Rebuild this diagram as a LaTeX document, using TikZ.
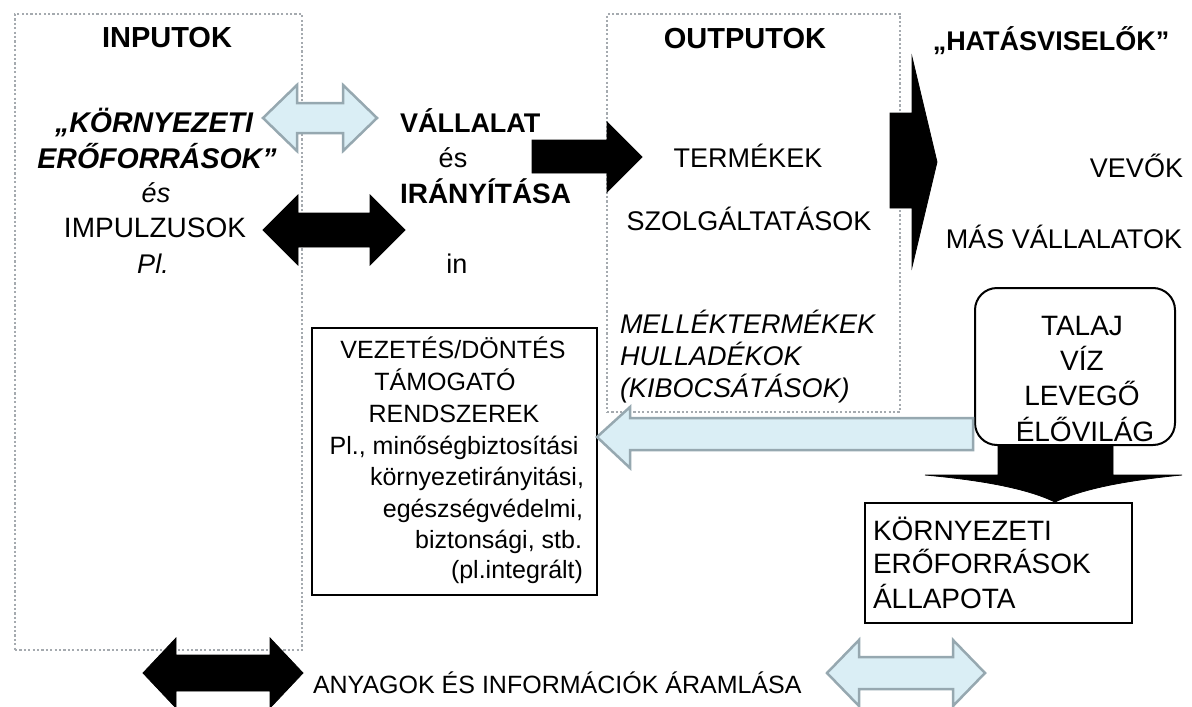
\documentclass[tikz,border=0pt]{standalone}
\usepackage{fontspec}
\setmainfont{Liberation Sans}
\definecolor{lblue}{RGB}{218,238,245}
\definecolor{bgray}{RGB}{150,168,176}
\definecolor{dotgray}{RGB}{165,170,175}
% double-headed block arrow: style, left tip x, right tip x, centre y, head length, shaft half, head half
\newcommand\dblblockarrow[7]{%
  \draw[#1] (#2,#4) -- (#2+#5,#4-#7) -- (#2+#5,#4-#6) -- (#3-#5,#4-#6)
    -- (#3-#5,#4-#7) -- (#3,#4) -- (#3-#5,#4+#7) -- (#3-#5,#4+#6)
    -- (#2+#5,#4+#6) -- (#2+#5,#4+#7) -- cycle;}
\begin{document}
\begin{tikzpicture}[x=1pt,y=-1pt,
  every node/.style={inner sep=0pt,outer sep=0pt},
  dotbox/.style={draw=dotgray,line width=2.4pt,dash pattern=on 2.2pt off 2.2pt},
  framebox/.style={draw=black,line width=1.3pt},
  lbarrow/.style={fill=lblue,draw=bgray,line width=2.5pt,line join=miter},
  bkarrow/.style={fill=black,draw=black,line width=0.8pt,line join=miter},
  hd/.style={font=\fontsize{29}{34}\selectfont\bfseries,anchor=base},
  hdit/.style={font=\fontsize{28.5}{34}\selectfont\bfseries\itshape,anchor=base},
  tx/.style={font=\fontsize{27}{32}\selectfont,anchor=base},
  txit/.style={font=\fontsize{27}{32}\selectfont\itshape,anchor=base},
  sm/.style={font=\fontsize{25}{30}\selectfont,anchor=base},
  mid/.style={font=\fontsize{28}{34}\selectfont,anchor=base}]
\useasboundingbox (0,0) rectangle (1192,707);
\fill[white] (0,0) rectangle (1192,707);

% dotted frames for inputs and outputs
\node[dotbox,minimum width=287pt,minimum height=636pt] (inbox) at (158.5,332) {};
\node[dotbox,minimum width=293pt,minimum height=398pt] (outbox) at (753.5,213) {};

% solid frames
\node[framebox,minimum width=285pt,minimum height=267pt] (vez) at (454.5,461.5) {};
\node[framebox,minimum width=267pt,minimum height=120pt] (kall) at (998.5,563) {};
\node[draw=black,line width=2pt,rounded corners=22pt,minimum width=200pt,minimum height=157pt] (talaj) at (1075,366.5) {};

% block arrows
\dblblockarrow{lbarrow}{263}{377}{118}{34}{15}{33}
\dblblockarrow{bkarrow}{263}{405}{230}{35}{17}{35}
\dblblockarrow{bkarrow}{143}{303}{673}{33}{18}{35}
\dblblockarrow{lbarrow}{827}{985}{673}{32}{16}{33}
\draw[bkarrow] (532,140) -- (607,140) -- (607,122) -- (642,157) -- (607,192) -- (607,173) -- (532,173) -- cycle;
\draw[bkarrow] (890,113) -- (912,113) -- (912,57) -- (937,162) -- (912,267) -- (912,208) -- (890,208) -- cycle;
\draw[lbarrow] (973,418) -- (630,418) -- (630,407) -- (597,437) -- (630,468) -- (630,450) -- (973,450) -- cycle;
\draw[bkarrow] (998,445) -- (1113,445) -- (1113,475) -- (1182,475)
  .. controls (1120,481) and (1080,490) .. (1055,502)
  .. controls (1030,490) and (990,481) .. (925,475) -- (998,475) -- cycle;

% input column
\node[hd] (tinp) at (167,47) {INPUTOK};
\node[hdit] (tkor) at (154,132) {„KÖRNYEZETI};
\node[hdit] (terf) at (157,168) {ERŐFORRÁSOK”};
\node[txit] (tes1) at (156,202) {és};
\node[mid] (timp) at (155,237) {IMPULZUSOK};
\node[txit] (tpl) at (153,273) {Pl.};

% company column
\node[hd,anchor=base west,font=\fontsize{27}{32}\selectfont\bfseries] (tval) at (400,132) {VÁLLALAT};
\node[tx] (tes2) at (453,167) {és};
\node[hd,anchor=base west,font=\fontsize{28}{32}\selectfont\bfseries] (tiry) at (400,203) {IRÁNYÍTÁSA};
\node[tx] (tin) at (457,273) {in};

% output column
\node[hd] (tout) at (745,48) {OUTPUTOK};
\node[tx] (tterm) at (748,167) {TERMÉKEK};
\node[tx] (tszol) at (749,230) {SZOLGÁLTATÁSOK};
\node[txit,anchor=base west] (tmell) at (620,333) {MELLÉKTERMÉKEK};
\node[txit,anchor=base west] (thull) at (620,365) {HULLADÉKOK};
\node[txit,anchor=base west] (tkib) at (620,397) {(KIBOCSÁTÁSOK)};

% stakeholders
\node[hd,font=\fontsize{27}{32}\selectfont\bfseries] (thatas) at (1051,50) {„HATÁSVISELŐK”};
\node[tx,anchor=base east] (tvevo) at (1183,177) {VEVŐK};
\node[tx,anchor=base east] (tmas) at (1182,248) {MÁS VÁLLALATOK};

% environment media
\node[mid] (ttal) at (1082,335) {TALAJ};
\node[mid] (tviz) at (1082,370) {VÍZ};
\node[mid] (tlev) at (1082,405) {LEVEGŐ};
\node[mid] (telo) at (1085,441) {ÉLŐVILÁG};

% state of environmental resources
\node[mid,anchor=base west] (tk1) at (873,540) {KÖRNYEZETI};
\node[mid,anchor=base west] (tk2) at (873,573) {ERŐFORRÁSOK};
\node[mid,anchor=base west] (tk3) at (873,608) {ÁLLAPOTA};

% management support systems
\node[sm] (v1) at (453,358) {VEZETÉS/DÖNTÉS};
\node[sm] (v2) at (445,390) {TÁMOGATÓ};
\node[sm] (v3) at (454,422) {RENDSZEREK};
\node[sm] (v4) at (454,454) {Pl., minőségbiztosítási};
\node[sm,anchor=base east] (v5) at (584,485) {környezetirányitási,};
\node[sm,anchor=base east] (v6) at (583,517) {egészségvédelmi,};
\node[sm,anchor=base east] (v7) at (582,548) {biztonsági, stb.};
\node[sm,anchor=base east] (v8) at (583,578) {(pl.integrált)};

% flows
\node[sm,anchor=base west] (tflow) at (313,693) {ANYAGOK ÉS INFORMÁCIÓK ÁRAMLÁSA};
\end{tikzpicture}
\end{document}
